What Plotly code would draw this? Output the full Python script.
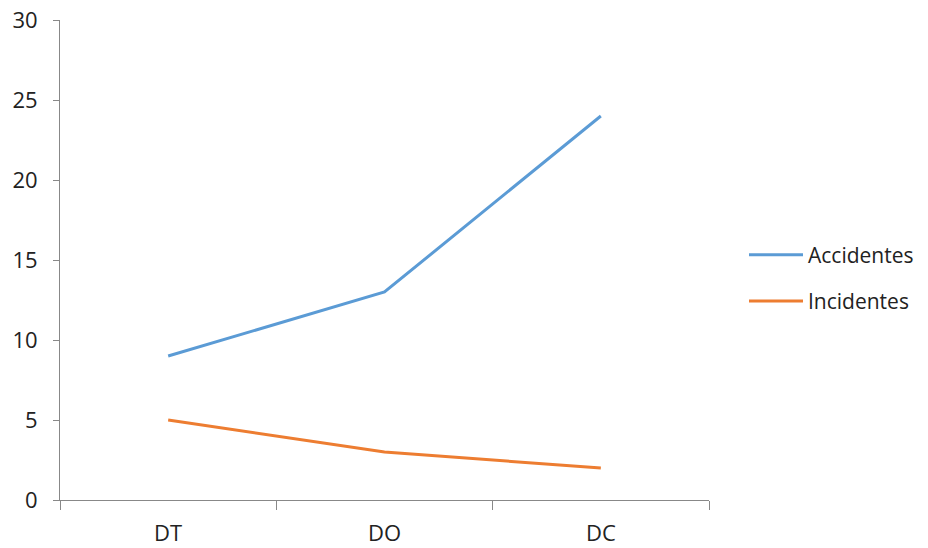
import plotly.graph_objects as go

categories = ["DT", "DO", "DC"]
accidentes = [9, 13, 24]
incidentes = [5, 3, 2]
y_ticks = [0, 5, 10, 15, 20, 25, 30]

fig = go.Figure()
fig.add_trace(go.Scatter(x=categories, y=accidentes, mode="lines", name="Accidentes",
                         line=dict(color="#5B9BD5", width=3), legendgroup="a"))
fig.add_trace(go.Scatter(x=categories, y=incidentes, mode="lines", name="Incidentes",
                         line=dict(color="#ED7D31", width=3), legendgroup="b"))

axis_col = "#888888"
fig.update_layout(
    width=920, height=540,
    margin=dict(l=52, r=219, t=12, b=48, autoexpand=False),
    paper_bgcolor="white", plot_bgcolor="white",
    font=dict(family="Open Sans, Liberation Sans, sans-serif", size=22, color="#222222"),
    showlegend=True,
    legend=dict(xref="container", yref="container", x=0.800, y=0.5,
                xanchor="left", yanchor="middle",
                traceorder="grouped", tracegroupgap=16, itemwidth=54,
                font=dict(size=21, color="#222222")),
    xaxis=dict(type="category", range=[-0.5, 2.5], showline=True, linecolor=axis_col, linewidth=1,
               ticks="outside", tickson="boundaries", ticklen=9, tickcolor=axis_col,
               showgrid=False, zeroline=False, fixedrange=True, automargin=False,
               ticklabelstandoff=14, ticklabeloverflow="allow"),
    yaxis=dict(range=[0, 30], tickvals=y_ticks, showline=True, linecolor=axis_col, linewidth=1,
               ticks="outside", ticklen=6, tickcolor=axis_col, showgrid=False, zeroline=False,
               ticklabelstandoff=11, automargin=False, ticklabeloverflow="allow"),
)
fig.write_html("out.html")
